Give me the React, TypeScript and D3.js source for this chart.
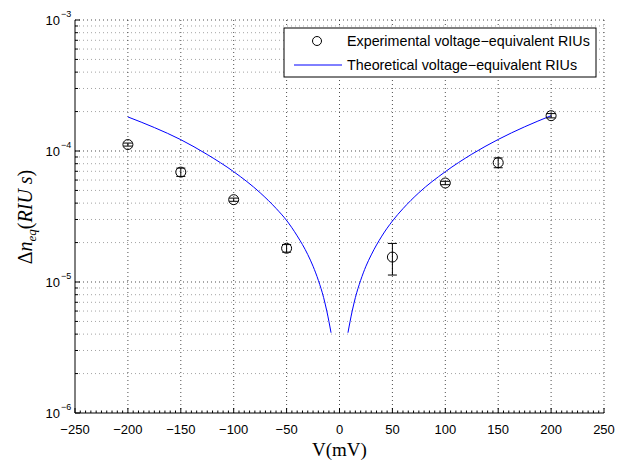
import React from 'react';
import * as d3 from 'd3';

// axis ticks
const xTicks = [-250, -200, -150, -100, -50, 0, 50, 100, 150, 200, 250];
const yDecades = [-6, -5, -4, -3];

// experimental points (mV, RIU s) with symmetric error
const expV = [-200, -150, -100, -50, 50, 100, 150, 200];
const expRIU = [1.12e-4, 6.9e-5, 4.25e-5, 1.81e-5, 1.55e-5, 5.7e-5, 8.15e-5, 1.86e-4];
const expErr = [0.3e-5, 0.5e-5, 0.12e-5, 0.12e-5, 0.42e-5, 0.17e-5, 0.7e-5, 0.7e-5];

// theoretical curve, two branches
const theoLeftV = [-200, -175, -150, -125, -100, -75, -60, -50, -40, -30, -25, -20, -15, -12, -10, -8];
const theoLeftRIU = [1.82e-4, 1.51e-4, 1.22e-4, 9.4e-5, 6.95e-5, 4.8e-5, 3.65e-5, 2.95e-5, 2.25e-5, 1.62e-5, 1.32e-5, 1.03e-5, 7.6e-6, 6.0e-6, 5.0e-6, 4.1e-6];
const theoRightV = [8, 10, 12, 15, 20, 25, 30, 40, 50, 60, 75, 100, 125, 150, 175, 200];
const theoRightRIU = [4.1e-6, 5.0e-6, 6.0e-6, 7.6e-6, 1.03e-5, 1.32e-5, 1.61e-5, 2.24e-5, 2.92e-5, 3.63e-5, 4.8e-5, 6.95e-5, 9.45e-5, 1.225e-4, 1.53e-4, 1.86e-4];

const legendLabels = ['Experimental voltage\u2212equivalent RIUs', 'Theoretical voltage\u2212equivalent RIUs'];

const W = 618;
const H = 461;
const left = 75, right = 604, top = 20, bottom = 413;

const sans = '"Liberation Sans", Arial, sans-serif';
const serif = '"Liberation Serif", "Times New Roman", serif';

const App = () => {
  const x = d3.scaleLinear().domain([-250, 250]).range([left, right]);
  const y = d3.scaleLog().domain([1e-6, 1e-3]).range([bottom, top]);

  const leftPts = theoLeftV.map((v, i) => [v, theoLeftRIU[i]] as [number, number]);
  const rightPts = theoRightV.map((v, i) => [v, theoRightRIU[i]] as [number, number]);
  const curve = d3.line<[number, number]>()
    .x(d => x(d[0]))
    .y(d => y(d[1]))
    .curve(d3.curveMonotoneX);

  const minorY: number[] = [];
  yDecades.slice(0, -1).forEach(e => {
    for (let k = 2; k <= 9; k++) minorY.push(k * Math.pow(10, e));
  });
  const minorX = d3.range(-250, 251, 5).filter(v => v % 50 !== 0);

  return (
    <svg width={W} height={H} style={{ position: 'absolute', left: 0, top: 0, background: '#fff' }}>
      <rect x={0} y={0} width={W} height={H} fill="#fff" />
      {/* grid */}
      <g fill="none">
        {minorY.map(v => (
          <line key={'my' + v} x1={left} x2={right} y1={y(v)} y2={y(v)} stroke="#666" strokeWidth={0.6} strokeDasharray="1,3" />
        ))}
        {yDecades.slice(1).map(e => (
          <line key={'My' + e} x1={left} x2={right} y1={y(Math.pow(10, e))} y2={y(Math.pow(10, e))} stroke="#000" strokeWidth={0.7} strokeDasharray="1,3" />
        ))}
        {xTicks.slice(1).map(v => (
          <line key={'gx' + v} x1={x(v)} x2={x(v)} y1={top} y2={bottom} stroke="#000" strokeWidth={0.7} strokeDasharray="1,3" />
        ))}
      </g>
      {/* axes */}
      <g stroke="#000" strokeWidth={1}>
        <line x1={left} x2={left} y1={top} y2={bottom} />
        <line x1={left} x2={right} y1={bottom} y2={bottom} />
        {yDecades.map(e => (
          <line key={'ty' + e} x1={left} x2={left + 5} y1={y(Math.pow(10, e))} y2={y(Math.pow(10, e))} />
        ))}
        {minorY.map(v => (
          <line key={'tmy' + v} x1={left} x2={left + 3} y1={y(v)} y2={y(v)} />
        ))}
        {xTicks.map(v => (
          <line key={'tx' + v} x1={x(v)} x2={x(v)} y1={bottom} y2={bottom - 5} />
        ))}
        {minorX.map(v => (
          <line key={'tmx' + v} x1={x(v)} x2={x(v)} y1={bottom} y2={bottom - 2.5} />
        ))}
      </g>
      {/* tick labels */}
      <g fontFamily={sans} fontSize={13} fill="#000">
        {xTicks.map(v => (
          <text key={'lx' + v} x={x(v)} y={bottom + 21} textAnchor="middle">
            {v < 0 ? '\u2212' + Math.abs(v) : String(v)}
          </text>
        ))}
        {yDecades.map(e => (
          <text key={'ly' + e} x={60} y={y(Math.pow(10, e)) + 5} textAnchor="end">
            10
            <tspan x={61} dy={-8} fontSize={9} textAnchor="start">{'\u2212' + Math.abs(e)}</tspan>
          </text>
        ))}
      </g>
      {/* axis labels */}
      <text x={x(0)} y={456} textAnchor="middle" fontFamily={serif} fontSize={19}>V(mV)</text>
      <text transform={`translate(32, 217) rotate(-90)`} textAnchor="middle" fontFamily={serif} fontSize={20}>
        <tspan>{'\u0394'}</tspan>
        <tspan fontStyle="italic">n</tspan>
        <tspan fontStyle="italic" fontSize={13} dy={4}>eq</tspan>
        <tspan dy={-4}>(</tspan>
        <tspan fontStyle="italic">RIU s</tspan>
        <tspan>)</tspan>
      </text>
      {/* theoretical curve */}
      <path d={curve(leftPts) || ''} fill="none" stroke="#0000ff" strokeWidth={1} />
      <path d={curve(rightPts) || ''} fill="none" stroke="#0000ff" strokeWidth={1} />
      {/* experimental points */}
      <g stroke="#000" strokeWidth={1} fill="none">
        {expV.map((v, i) => {
          const cx = x(v);
          const y1 = y(expRIU[i] - expErr[i]);
          const y2 = y(expRIU[i] + expErr[i]);
          return (
            <g key={'p' + v}>
              <line x1={cx} x2={cx} y1={y1} y2={y2} />
              <line x1={cx - 4.5} x2={cx + 4.5} y1={y1} y2={y1} />
              <line x1={cx - 4.5} x2={cx + 4.5} y1={y2} y2={y2} />
              <circle cx={cx} cy={y(expRIU[i])} r={5} />
            </g>
          );
        })}
      </g>
      {/* legend */}
      <g>
        <rect x={284} y={28} width={312} height={49} fill="#fff" stroke="#000" strokeWidth={1} />
        <circle cx={317} cy={41} r={4.5} fill="none" stroke="#000" strokeWidth={1} />
        <line x1={294} x2={342} y1={65} y2={65} stroke="#0000ff" strokeWidth={1} />
        <text x={347} y={46} fontFamily={sans} fontSize={14.3}>{legendLabels[0]}</text>
        <text x={347} y={70} fontFamily={sans} fontSize={14.3}>{legendLabels[1]}</text>
      </g>
    </svg>
  );
};

export default App;
